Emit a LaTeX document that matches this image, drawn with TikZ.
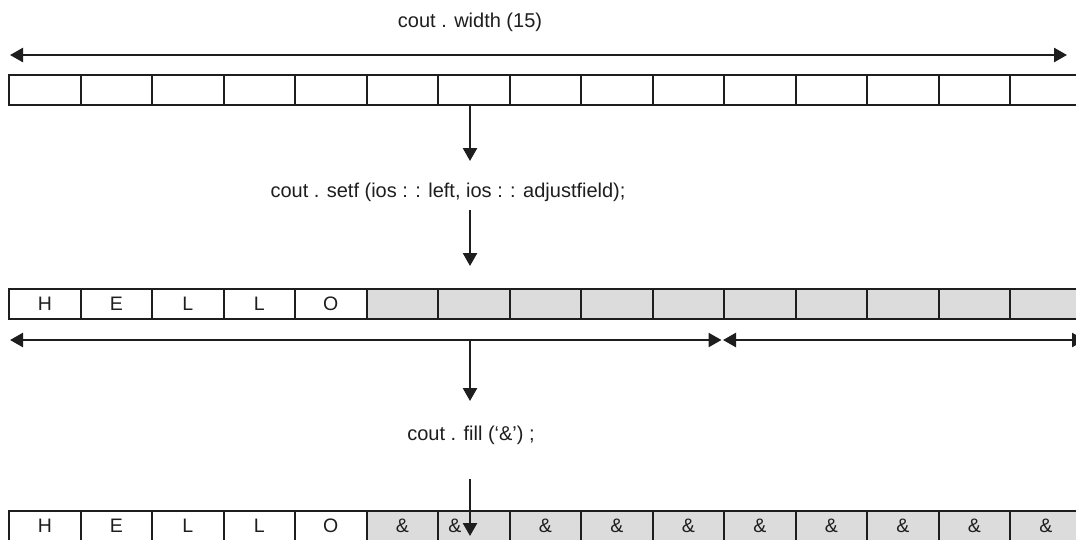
\documentclass[tikz,border=0pt]{standalone}
\usepackage{fontspec}
\setmainfont{Liberation Sans}
\usetikzlibrary{arrows.meta,positioning}
\definecolor{inkdark}{RGB}{30,30,30}
\definecolor{cellgray}{RGB}{220,220,220}

\tikzset{
  cell/.style={draw=inkdark,line width=2.1pt,minimum width=71.5pt,minimum height=30pt,
    inner sep=0pt,anchor=north west,text=inkdark,font=\fontsize{19.5}{23}\selectfont},
  padcell/.style={cell,fill=cellgray},
  code/.style={anchor=base,text=inkdark,font=\fontsize{20}{24}\selectfont},
  flow/.style={line width=2.5pt,draw=inkdark,-{Triangle[length=13pt,width=14pt]}},
  span/.style={line width=2.5pt,draw=inkdark,
    {Triangle[length=13pt,width=14pt]}-{Triangle[length=13pt,width=14pt]}}
}

\begin{document}
\begin{tikzpicture}[x=1pt,y=-1pt]
  \useasboundingbox[fill=white] (0,0) rectangle (1076,539);
  \clip (0,0) rectangle (1076,539);

  % width of the field
  \node[code] (width) at (470,27) {cout . width (15)};
  \coordinate (wl) at (10,55);
  \coordinate (wr) at (1067,55);
  \draw[span] (wl) -- (wr);
  \foreach \i in {0,...,14}
    \node[cell] (a\i) at (8+71.5*\i,74) {};

  % left adjustment
  \coordinate (d1s) at (470,104);
  \coordinate (d1e) at (470,161);
  \draw[flow] (d1s) -- (d1e);
  \node[code] (setf) at (448,197) {cout . setf (ios : : left, ios : : adjustfield);};
  \coordinate (d2s) at (470,210);
  \coordinate (d2e) at (470,266);
  \draw[flow] (d2s) -- (d2e);
  \foreach \ch [count=\i from 0] in {H,E,L,L,O}
    \node[cell] (b\i) at (8+71.5*\i,288) {\ch};
  \foreach \i in {5,...,14}
    \node[padcell] (b\i) at (8+71.5*\i,288) {};
  \coordinate (tl) at (10,340);
  \coordinate (tm) at (721.5,340);
  \coordinate (pl) at (723,340);
  \coordinate (pr) at (1085,340);
  \draw[span] (tl) -- (tm);
  \draw[span] (pl) -- (pr);

  % fill character
  \coordinate (d3s) at (470,340);
  \coordinate (d3e) at (470,401);
  \draw[flow] (d3s) -- (d3e);
  \node[code] (fill) at (471,440) {cout . fill (‘\&’) ;};
  \foreach \ch [count=\i from 0] in {H,E,L,L,O}
    \node[cell] (c\i) at (8+71.5*\i,510) {\ch};
  \foreach \i in {5,...,14}
    \node[padcell] (c\i) at (8+71.5*\i,510) {\ifnum\i=6 \hspace*{-38pt}\fi\&};
  \coordinate (d4s) at (470,479);
  \coordinate (d4e) at (470,536);
  \draw[flow] (d4s) -- (d4e);
\end{tikzpicture}
\end{document}
